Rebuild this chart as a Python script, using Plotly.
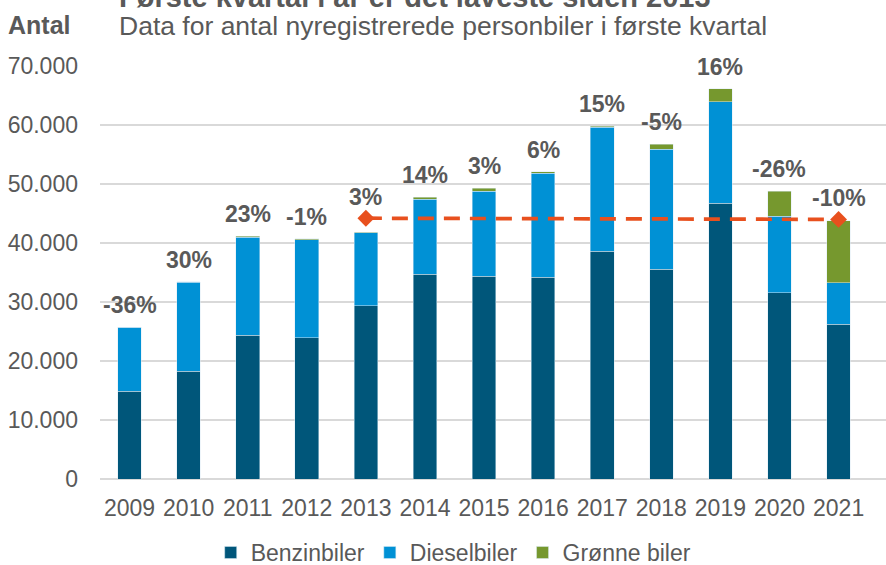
import plotly.graph_objects as go

years = ["2009", "2010", "2011", "2012", "2013", "2014", "2015", "2016",
         "2017", "2018", "2019", "2020", "2021"]
benzin = [14870, 18260, 24350, 23910, 29330, 34680, 34340, 34170, 38640, 35530, 46710, 31530, 26210]
diesel = [10810, 15080, 16650, 16670, 12380, 12770, 14400, 17620, 20940, 20320, 17270, 13040, 7070]
groenne = [30, 60, 120, 100, 150, 340, 570, 280, 170, 920, 2150, 4170, 10500]
pct_labels = ["-36%", "30%", "23%", "-1%", "3%", "14%", "3%", "6%", "15%", "-5%", "16%", "-26%", "-10%"]
line_years = ["2013", "2021"]
line_values = [44200, 44000]
yticks = [0, 10000, 20000, 30000, 40000, 50000, 60000, 70000]

FONT = "Liberation Sans, Arial, sans-serif"
GREY = "#595959"

fig = go.Figure()
outline = dict(color="rgba(220,235,245,0.6)", width=0.8)
fig.add_trace(go.Bar(x=years, y=benzin, name="Benzinbiler", marker=dict(color="#00567A", line=outline)))
fig.add_trace(go.Bar(x=years, y=diesel, name="Dieselbiler", marker=dict(color="#0091D5", line=outline)))
fig.add_trace(go.Bar(x=years, y=groenne, name="Grønne biler", marker=dict(color="#76982E", line=outline)))
fig.add_trace(go.Scatter(x=line_years, y=line_values, mode="lines+markers", showlegend=False,
                         line=dict(color="#E8501E", width=3.7, dash="16px,10px"),
                         marker=dict(symbol="diamond", size=13, color="#E8501E")))

totals = [b + d + g for b, d, g in zip(benzin, diesel, groenne)]
for i, (yr, lab) in enumerate(zip(years, pct_labels)):
    base = totals[i]
    shift = 22
    if yr in line_years:
        base = max(base, line_values[line_years.index(yr)])
        shift = 21
    fig.add_annotation(x=i, y=base, text=lab, showarrow=False, yshift=shift,
                       font=dict(family=FONT, size=23, color=GREY, weight="bold"))

fig.add_annotation(xref="paper", yref="paper", x=-0.119, y=1.100, xanchor="left", yanchor="middle",
                   text="<b>Antal</b>", showarrow=False, font=dict(family=FONT, size=25, color=GREY))
fig.add_annotation(xref="paper", yref="paper", x=0.021, y=1.098, xanchor="left", yanchor="middle",
                   text="Data for antal nyregistrerede personbiler i første kvartal", showarrow=False,
                   font=dict(family=FONT, size=26.5, color=GREY))
fig.add_annotation(xref="paper", yref="paper", x=0.021, y=1.124, xanchor="left", yanchor="bottom",
                   text="<b>Første kvartal i år er det laveste siden 2013</b>", showarrow=False,
                   font=dict(family=FONT, size=29, color=GREY))

fig.update_layout(
    width=886, height=565,
    margin=dict(l=100, r=0, t=66, b=86, autoexpand=False),
    barmode="stack", bargap=0.6,
    plot_bgcolor="white", paper_bgcolor="white",
    separators=",.",
    font=dict(family=FONT, size=22, color=GREY),
    legend=dict(orientation="h", x=0.45, xanchor="center", y=-0.126, yanchor="top",
                font=dict(size=23, color=GREY), traceorder="normal", itemwidth=30),
    showlegend=True,
)
fig.update_xaxes(type="category", showgrid=False, showline=False, ticks="",
                 ticklabelstandoff=13, tickfont=dict(size=23, color=GREY))
fig.update_yaxes(range=[0, 70000], tickvals=yticks, tickformat=",.0f", showgrid=True,
                 gridcolor="#D9D9D9", gridwidth=1.5, zeroline=True, zerolinecolor="#D9D9D9",
                 zerolinewidth=1.5, ticklabelstandoff=21, tickfont=dict(size=23, color=GREY))

fig.write_html("out.html", config={"displayModeBar": False},
               post_script="document.body.style.margin='0px';")
